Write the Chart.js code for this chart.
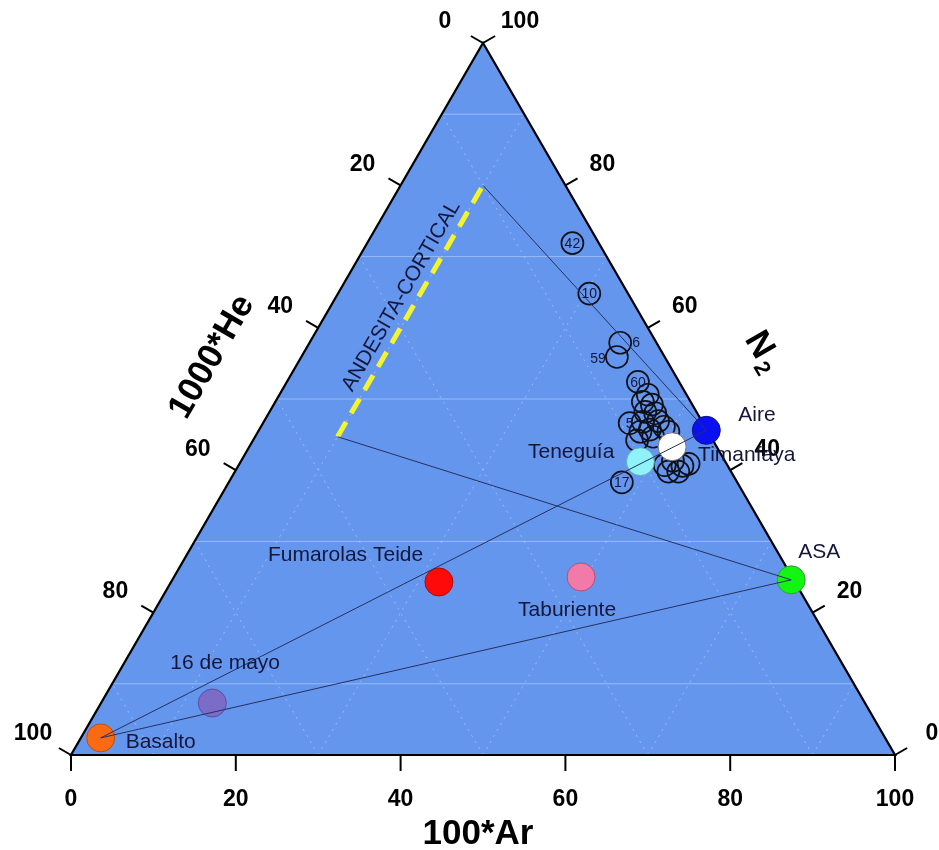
<!DOCTYPE html>
<html>
<head>
<meta charset="utf-8">
<script src="https://cdn.jsdelivr.net/npm/chart.js@4"></script>
<style>
  body { margin: 0; background: #ffffff; }
  canvas { display: block; }
</style>
</head>
<body>
<canvas id="ternaryChart" width="939" height="850"></canvas>
<script>
"use strict";

// End-members: 100*Ar and N2 (1000*He is what is left to 100)
const sourceNames = ["Basalto", "16 de mayo", "Fumarolas Teide", "Taburiente", "ASA", "Aire", "Timanfaya", "Teneguía"];
const sourceAr = [2.4, 13.5, 32.5, 49.4, 75.1, 54.3, 51.3, 48.5];
const sourceN2 = [2.4, 7.3, 24.3, 25.0, 24.6, 45.6, 43.3, 41.2];

// Numbered gas samples
const sampleIds = ["42", "10", "6", "59", "60", "17", "5",
  "", "", "", "", "", "", "", "", "", "", "", "", "",
  "", "", "", "", "", ""];
const sampleAr = [24.9, 30.5, 37.7, 38.3, 42.6, 47.7, 44.5,
  44.7, 44.6, 45.9, 45.6, 46.9, 46.0, 47.8, 46.4, 47.4, 48.9, 48.3, 46.6, 49.8,
  51.7, 52.4, 53.9, 52.6, 53.8, 54.5];
const sampleN2 = [71.9, 64.8, 57.9, 55.9, 52.4, 38.3, 46.6,
  50.6, 49.6, 49.2, 48.2, 48.0, 46.8, 46.9, 45.4, 45.7, 46.1, 44.7, 44.2, 45.4,
  40.7, 41.3, 40.6, 39.8, 39.8, 40.9];

// Andesita-cortical field (Ar, N2 at both ends)
const andesitaAr = [10, 10];
const andesitaN2 = [44.7, 80];

// Mixing lines: [from, to] as names
const mixingLines = [
  ["Basalto", "Aire"],
  ["Basalto", "ASA"],
  ["AndesitaBaja", "ASA"],
  ["AndesitaAlta", "Aire"],
];

const axisTicks = [0, 20, 40, 60, 80, 100];
const gridSteps = [10, 30, 50, 70, 90];

const SIN60 = Math.sqrt(3) / 2;
const toXY = (ar, n2) => ({ x: ar + n2 / 2, y: n2 * SIN60 });

const sourceColors = ["#fb6a12", "#7b6cc8", "#ff0a0a", "#f27aa8", "#12f412", "#0a10f0", "#ffffff", "#8ef2f8"];
const sourceBorders = ["#b4501c", "#5a4fa0", "#a01010", "#b05078", "#30a030", "#10108a", "#777777", "#60a8b8"];
const labelFont = "21px 'Liberation Sans', Arial, sans-serif";
const inkColor = "#14163a";

function pointOf(name) {
  if (name === "AndesitaBaja") return toXY(andesitaAr[0], andesitaN2[0]);
  if (name === "AndesitaAlta") return toXY(andesitaAr[1], andesitaN2[1]);
  const i = sourceNames.indexOf(name);
  return toXY(sourceAr[i], sourceN2[i]);
}

const lineSets = mixingLines.map(([a, b]) => ({
  type: "line",
  data: [pointOf(a), pointOf(b)],
  borderColor: "#26305e",
  borderWidth: 1,
  pointRadius: 0,
  fill: false,
  order: 0,
}));

const andesitaSet = {
  type: "line",
  data: andesitaAr.map((a, i) => toXY(a, andesitaN2[i])),
  borderColor: "#f4f42c",
  borderWidth: 5,
  borderDash: [17, 10],
  pointRadius: 0,
  fill: false,
  order: 0,
};

const sampleSet = {
  type: "scatter",
  data: sampleAr.map((a, i) => toXY(a, sampleN2[i])),
  pointRadius: 11,
  pointBackgroundColor: "rgba(0,0,0,0)",
  pointBorderColor: "#101018",
  pointBorderWidth: 1.7,
  order: 2,
};

const sourceSet = {
  type: "scatter",
  data: sourceAr.map((a, i) => toXY(a, sourceN2[i])),
  pointRadius: 14,
  pointBackgroundColor: sourceColors,
  pointBorderColor: sourceBorders,
  pointBorderWidth: 1,
  order: 1,
};

// label placement relative to the point (pixels)
const sourceLabelPos = [
  [25, 4, "left"], [-42, -40, "left"], [-171, -27, "left"], [-63, 33, "left"],
  [7, -28, "left"], [32, -15, "left"], [26, 8, "left"], [-26, -9, "right"],
];

const ternaryFrame = {
  id: "ternaryFrame",
  beforeDatasetsDraw(chart) {
    const { ctx, scales } = chart;
    const px = (ar, n2) => {
      const p = toXY(ar, n2);
      return [scales.x.getPixelForValue(p.x), scales.y.getPixelForValue(p.y)];
    };
    const A = px(0, 0), B = px(100, 0), C = px(0, 100);
    ctx.save();
    ctx.beginPath();
    ctx.moveTo(...A); ctx.lineTo(...B); ctx.lineTo(...C); ctx.closePath();
    ctx.fillStyle = "#6496ee";
    ctx.fill();

    // grid
    ctx.lineWidth = 1;
    ctx.strokeStyle = "rgba(255,255,255,0.35)";
    gridSteps.forEach((k) => {
      ctx.setLineDash([]);
      ctx.beginPath();
      ctx.moveTo(...px(0, k)); ctx.lineTo(...px(100 - k, k));
      ctx.stroke();
      ctx.setLineDash([2, 5]);
      ctx.beginPath();
      ctx.moveTo(...px(100 - k, 0)); ctx.lineTo(...px(0, 100 - k));
      ctx.stroke();
      ctx.beginPath();
      ctx.moveTo(...px(k, 0)); ctx.lineTo(...px(k, 100 - k));
      ctx.stroke();
    });
    ctx.setLineDash([]);

    // frame
    ctx.beginPath();
    ctx.moveTo(...A); ctx.lineTo(...B); ctx.lineTo(...C); ctx.closePath();
    ctx.strokeStyle = "#000000";
    ctx.lineWidth = 2.2;
    ctx.lineJoin = "miter";
    ctx.stroke();

    // ticks and tick labels
    const tickLen = 14;
    const c = 0.866, s = 0.5;
    ctx.lineWidth = 2;
    ctx.fillStyle = "#000000";
    ctx.font = "bold 23px 'Liberation Sans', Arial, sans-serif";
    ctx.textAlign = "center";
    ctx.textBaseline = "middle";
    axisTicks.forEach((v) => {
      // 100*Ar on the bottom
      let [x, y] = px(v, 0);
      ctx.beginPath(); ctx.moveTo(x, y); ctx.lineTo(x, y + tickLen + 2); ctx.stroke();
      ctx.fillText(String(v), x, y + 45);
      // 1000*He on the left (0 at the top)
      [x, y] = px(0, 100 - v);
      ctx.beginPath(); ctx.moveTo(x, y); ctx.lineTo(x - c * tickLen, y - s * tickLen); ctx.stroke();
      ctx.fillText(String(v), x - 38, y - 21);
      // N2 on the right (0 at the bottom)
      [x, y] = px(100 - v, v);
      ctx.beginPath(); ctx.moveTo(x, y); ctx.lineTo(x + c * tickLen, y - s * tickLen); ctx.stroke();
      ctx.fillText(String(v), x + 37, y - 21);
    });

    // axis titles
    ctx.font = "bold 35px 'Liberation Sans', Arial, sans-serif";
    ctx.fillText("100*Ar", 478, 834);
    ctx.save();
    ctx.translate(212, 357);
    ctx.rotate(-Math.PI / 3);
    ctx.fillText("1000*He", 0, 0);
    ctx.restore();
    ctx.save();
    ctx.translate(759, 345);
    ctx.rotate(Math.PI / 3);
    ctx.fillText("N", 0, 0);
    ctx.font = "bold 22px 'Liberation Sans', Arial, sans-serif";
    ctx.fillText("2", 22, 10);
    ctx.restore();
    ctx.restore();
  },
  afterDatasetsDraw(chart) {
    const { ctx, scales } = chart;
    const px = (ar, n2) => {
      const p = toXY(ar, n2);
      return [scales.x.getPixelForValue(p.x), scales.y.getPixelForValue(p.y)];
    };
    ctx.save();
    ctx.fillStyle = inkColor;
    ctx.textBaseline = "middle";

    // sample numbers
    sampleIds.forEach((id, i) => {
      if (!id) return;
      const [x, y] = px(sampleAr[i], sampleN2[i]);
      ctx.font = "14px 'Liberation Sans', Arial, sans-serif";
      if (id === "6") {
        ctx.textAlign = "left";
        ctx.fillText(id, x + 12, y);
      } else if (id === "59") {
        ctx.textAlign = "right";
        ctx.fillText(id, x - 11, y + 2);
      } else {
        ctx.textAlign = "center";
        ctx.fillText(id, x, y + 1);
      }
    });

    // end-member names
    ctx.font = labelFont;
    sourceNames.forEach((name, i) => {
      const [x, y] = px(sourceAr[i], sourceN2[i]);
      const [dx, dy, align] = sourceLabelPos[i];
      ctx.textAlign = align;
      ctx.fillText(name, x + dx, y + dy);
    });

    // andesita label along the dashed line
    const [x0, y0] = px(andesitaAr[0], andesitaN2[0]);
    const [x1, y1] = px(andesitaAr[1], andesitaN2[1]);
    ctx.save();
    ctx.translate((x0 + x1) / 2 - 9, (y0 + y1) / 2 - 15);
    ctx.rotate(-Math.PI / 3);
    ctx.textAlign = "center";
    ctx.fillText("ANDESITA-CORTICAL", 0, 0);
    ctx.restore();
    ctx.restore();
  },
};

new Chart(document.getElementById("ternaryChart").getContext("2d"), {
  type: "scatter",
  data: {
    datasets: [...lineSets, andesitaSet, sampleSet, sourceSet],
  },
  options: {
    responsive: false,
    animation: false,
    layout: { padding: { left: 71, right: 44, top: 43, bottom: 95 } },
    scales: {
      x: { type: "linear", min: 0, max: 100, display: false },
      y: { type: "linear", min: 0, max: 100 * SIN60, display: false },
    },
    plugins: { legend: { display: false }, tooltip: { enabled: false } },
    elements: { point: { hoverRadius: 14 } },
  },
  plugins: [ternaryFrame],
});
</script>
</body>
</html>
